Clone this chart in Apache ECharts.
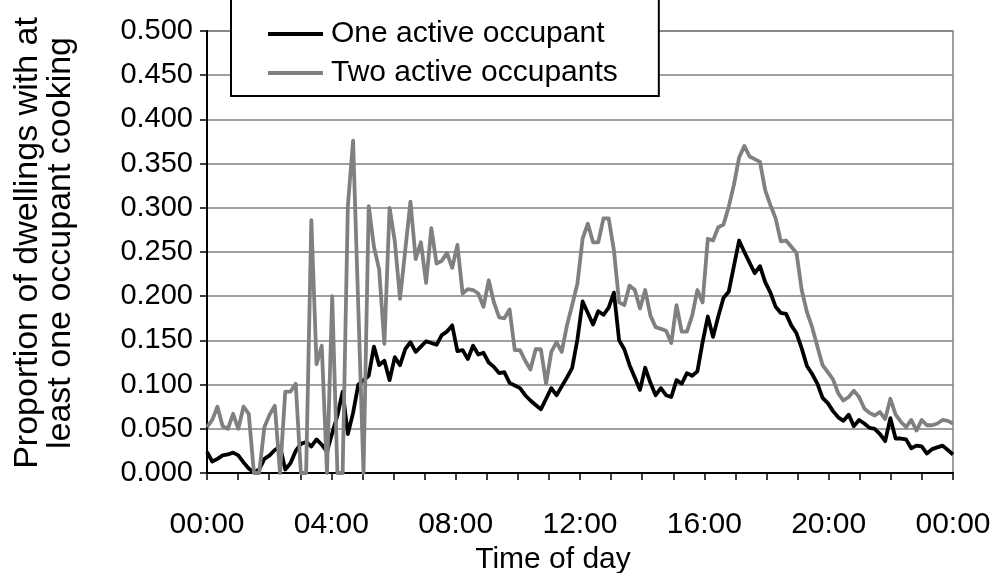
<!DOCTYPE html>
<html>
<head>
<meta charset="utf-8">
<script src="https://cdn.jsdelivr.net/npm/echarts@6/dist/echarts.min.js"></script>
<style>
  html, body { margin: 0; padding: 0; background: #fff; }
  #chart { width: 996px; height: 573px; }
</style>
</head>
<body>
<div id="chart"></div>
<script>
// 10-minute slots over one day, 00:00 .. 23:50
const TIMES = [];
for (let h = 0; h < 24; h++) {
  for (let m = 0; m < 60; m += 10) {
    TIMES.push(String(h).padStart(2, '0') + ':' + String(m).padStart(2, '0'));
  }
}

const HOUR_LABELS = ['00:00', '04:00', '08:00', '12:00', '16:00', '20:00', '00:00'];

const ONE_ACTIVE = [
  0.024, 0.013, 0.016, 0.020, 0.021, 0.023, 0.020, 0.012, 0.005, 0.001, 0.004, 0.016,
  0.020, 0.026, 0.030, 0.004, 0.011, 0.025, 0.033, 0.035, 0.030, 0.038, 0.032, 0.024,
  0.045, 0.065, 0.092, 0.044, 0.068, 0.100, 0.105, 0.110, 0.143, 0.122, 0.127, 0.105,
  0.131, 0.122, 0.140, 0.148, 0.137, 0.143, 0.149, 0.147, 0.145, 0.156, 0.160, 0.167,
  0.138, 0.139, 0.129, 0.144, 0.134, 0.136, 0.125, 0.120, 0.113, 0.114, 0.102, 0.099,
  0.096, 0.088, 0.082, 0.077, 0.072, 0.084, 0.096, 0.088, 0.098, 0.108, 0.119, 0.151,
  0.194, 0.181, 0.168, 0.183, 0.179, 0.187, 0.204, 0.150, 0.140, 0.122, 0.108, 0.094,
  0.119, 0.102, 0.088, 0.096, 0.088, 0.086, 0.105, 0.101, 0.113, 0.110, 0.115, 0.148,
  0.177, 0.154, 0.177, 0.198, 0.205, 0.234, 0.263, 0.250, 0.238, 0.226, 0.234, 0.216,
  0.204, 0.188, 0.181, 0.180, 0.167, 0.158, 0.141, 0.121, 0.112, 0.101, 0.085, 0.079,
  0.070, 0.063, 0.059, 0.066, 0.053, 0.060, 0.056, 0.051, 0.050, 0.044, 0.036, 0.062,
  0.039, 0.039, 0.038, 0.028, 0.031, 0.030, 0.022, 0.027, 0.029, 0.031, 0.026, 0.021
];

const TWO_ACTIVE = [
  0.052, 0.060, 0.075, 0.053, 0.050, 0.067, 0.050, 0.075, 0.067, 0.000, 0.000, 0.052,
  0.066, 0.076, 0.000, 0.092, 0.092, 0.101, 0.000, 0.000, 0.286, 0.123, 0.144, 0.000,
  0.200, 0.000, 0.000, 0.302, 0.376, 0.188, 0.000, 0.302, 0.256, 0.230, 0.146, 0.300,
  0.262, 0.197, 0.252, 0.307, 0.242, 0.261, 0.215, 0.277, 0.237, 0.240, 0.249, 0.232,
  0.258, 0.203, 0.208, 0.207, 0.203, 0.188, 0.218, 0.193, 0.176, 0.175, 0.185, 0.139,
  0.139, 0.127, 0.117, 0.140, 0.140, 0.101, 0.137, 0.148, 0.137, 0.167, 0.190, 0.214,
  0.265, 0.282, 0.261, 0.261, 0.288, 0.288, 0.252, 0.193, 0.190, 0.212, 0.207, 0.186,
  0.207, 0.178, 0.165, 0.163, 0.161, 0.147, 0.190, 0.160, 0.160, 0.178, 0.207, 0.193,
  0.265, 0.263, 0.278, 0.281, 0.301, 0.326, 0.357, 0.370, 0.358, 0.355, 0.352, 0.320,
  0.303, 0.288, 0.262, 0.263, 0.256, 0.249, 0.207, 0.182, 0.165, 0.143, 0.122, 0.114,
  0.106, 0.090, 0.082, 0.086, 0.093, 0.086, 0.073, 0.068, 0.065, 0.069, 0.061, 0.084,
  0.066, 0.058, 0.052, 0.060, 0.048, 0.060, 0.054, 0.054, 0.056, 0.060, 0.059, 0.056
];

const FONT = '"Liberation Sans", Arial, sans-serif';
const GRID_GREY = '#808080';

const chart = echarts.init(document.getElementById('chart'), null, { renderer: 'canvas' });

chart.setOption({
  backgroundColor: '#fff',
  animation: false,
  textStyle: { fontFamily: FONT, color: '#000' },
  grid: {
    left: 207, right: 43, top: 31, bottom: 100,
    outerBoundsMode: 'none',
    containLabel: false,
    show: true, borderColor: GRID_GREY, borderWidth: 1.5,
  },
  legend: {
    left: 231, top: -3,
    orient: 'vertical',
    backgroundColor: '#fff',
    borderColor: '#000',
    borderWidth: 2,
    padding: [22, 41, 8, 37],
    itemGap: 9,
    itemWidth: 55,
    itemHeight: 4,
    icon: 'rect',
    textStyle: { fontSize: 30, fontFamily: FONT, color: '#000', padding: [0, 0, 0, 3] },
    data: ['One active occupant', 'Two active occupants'],
  },
  xAxis: [
    {
      type: 'category',
      data: TIMES,
      boundaryGap: false,
      show: false,
    },
    {
      type: 'value',
      position: 'bottom',
      min: 0, max: 24, interval: 1,
      name: 'Time of day',
      nameLocation: 'middle',
      nameGap: 70,
      nameTextStyle: { fontSize: 30, fontFamily: FONT, color: '#000', padding: [0, 54, 0, 0] },
      axisLine: { lineStyle: { color: '#000', width: 2 } },
      axisTick: { show: true, length: 7, lineStyle: { color: '#000', width: 1.5 } },
      splitLine: { show: false },
      axisLabel: {
        fontSize: 30, fontFamily: FONT, color: '#000', margin: 37,
        showMinLabel: true, showMaxLabel: true,
        formatter: (v) => (v % 4 === 0 ? HOUR_LABELS[v / 4] : ''),
      },
    },
  ],
  yAxis: {
    type: 'value',
    min: 0, max: 0.5, interval: 0.05,
    name: 'Proportion of dwellings with at\nleast one occupant cooking',
    nameLocation: 'middle',
    nameGap: 130,
    nameTextStyle: { fontSize: 34, fontFamily: FONT, color: '#000', lineHeight: 33, padding: [0, 0, 0, 18] },
    axisLine: { show: true, lineStyle: { color: '#000', width: 2 } },
    axisTick: { show: true, length: 7, lineStyle: { color: '#000', width: 1.5 } },
    splitLine: { lineStyle: { color: GRID_GREY, width: 1.5 } },
    axisLabel: {
      fontSize: 29, fontFamily: FONT, color: '#000', margin: 14,
      formatter: (v) => v.toFixed(3),
    },
  },
  series: [
    {
      name: 'One active occupant',
      type: 'line',
      xAxisIndex: 0,
      data: ONE_ACTIVE,
      showSymbol: false,
      symbol: 'none',
      color: '#000',
      lineStyle: { color: '#000', width: 3.8, join: 'round' },
    },
    {
      name: 'Two active occupants',
      type: 'line',
      xAxisIndex: 0,
      data: TWO_ACTIVE,
      showSymbol: false,
      symbol: 'none',
      color: '#808080',
      lineStyle: { color: '#808080', width: 3.8, join: 'round' },
    },
  ],
});
</script>
</body>
</html>
